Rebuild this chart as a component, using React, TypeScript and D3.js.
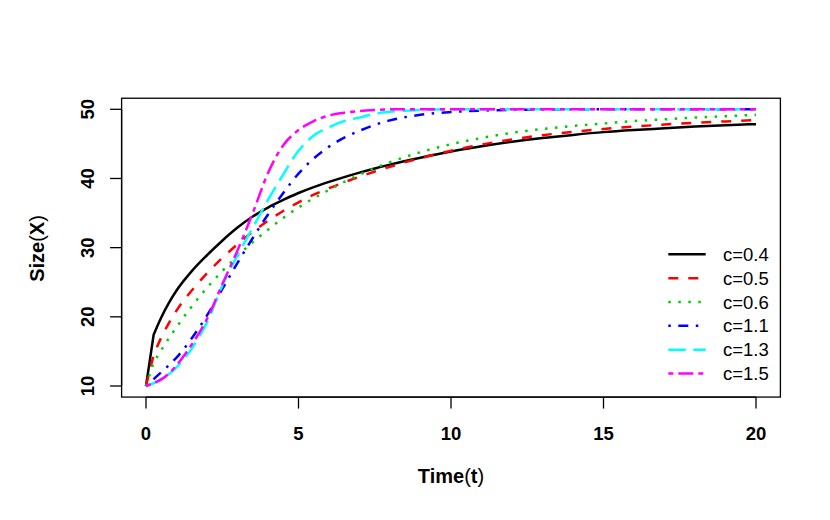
import React from "react";
import * as d3 from "d3";

const times = [0, 0.25, 0.5, 0.75, 1, 1.5, 2, 2.5, 3, 3.5, 4, 4.5, 5, 5.5, 6, 6.5, 7, 7.5, 8, 9, 10, 11, 12, 13, 14, 15, 16, 17, 18, 19, 20];

const c04 = [10, 17.4, 19.9, 22.0, 23.8, 26.6, 28.9, 31.0, 32.9, 34.5, 35.8, 36.9, 37.9, 38.75, 39.5, 40.2, 40.85, 41.45, 42.0, 43.0, 43.9, 44.65, 45.3, 45.85, 46.3, 46.7, 47.0, 47.25, 47.5, 47.7, 47.85];
const c05 = [10, 14.5, 17.0, 19.1, 20.9, 23.8, 26.3, 28.5, 30.5, 32.3, 33.9, 35.3, 36.55, 37.65, 38.6, 39.45, 40.25, 41.0, 41.7, 42.95, 44.0, 44.9, 45.65, 46.25, 46.75, 47.15, 47.5, 47.8, 48.05, 48.25, 48.45];
const c06 = [10, 13.4, 15.2, 16.9, 18.5, 21.5, 24.2, 26.6, 28.8, 30.8, 32.6, 34.3, 35.8, 37.15, 38.35, 39.5, 40.55, 41.5, 42.35, 43.8, 44.95, 45.85, 46.6, 47.15, 47.6, 47.95, 48.3, 48.55, 48.8, 49.0, 49.2];
const c11 = [10, 11.0, 12.0, 13.0, 14.1, 16.9, 20.2, 24.0, 27.8, 31.4, 34.8, 37.9, 40.7, 42.9, 44.6, 45.9, 46.9, 47.75, 48.4, 49.2, 49.6, 49.82, 49.92, 49.97, 50, 50, 50, 50, 50, 50, 50];
const c13 = [10, 10.4, 11.0, 11.7, 12.7, 15.4, 19.2, 24.5, 28.9, 32.9, 36.9, 40.6, 44.0, 46.2, 47.4, 48.3, 48.8, 49.35, 49.65, 49.9, 50, 50, 50, 50, 50, 50, 50, 50, 50, 50, 50];
const c15 = [10, 10.4, 10.95, 11.8, 13.0, 16.0, 19.7, 24.7, 29.6, 35.0, 40.8, 44.8, 47.0, 48.3, 49.1, 49.5, 49.75, 49.9, 50, 50, 50, 50, 50, 50, 50, 50, 50, 50, 50, 50, 50];

const seriesLabels = ["c=0.4", "c=0.5", "c=0.6", "c=1.1", "c=1.3", "c=1.5"];
const seriesValues = [c04, c05, c06, c11, c13, c15];
const seriesColors = ["#000000", "#FF0000", "#00CD00", "#0000FF", "#00FFFF", "#FF00FF"];
const seriesDash = ["none", "10,10", "2.5,7.5", "2.5,7.5,10,7.5", "17.5,7.5", "5,5,15,5"];

const xTicks = [0, 5, 10, 15, 20];
const yTicks = [10, 20, 30, 40, 50];

const FONT = "'Liberation Sans', Arial, Helvetica, sans-serif";

export default function App() {
  const x = d3.scaleLinear().domain([0, 20]).range([146, 756]);
  const y = d3.scaleLinear().domain([10, 50]).range([386, 109.3]);
  const left = x(-0.8), right = x(20.8), top = y(51.6), bottom = y(8.4);

  const smooth = d3
    .line<[number, number]>()
    .x((d) => x(d[0]))
    .y((d) => y(d[1]))
    .curve(d3.curveMonotoneX);

  // first step drawn as a straight segment (as in the reference), the rest smoothed
  const pathFor = (vals: number[]) => {
    const pts: [number, number][] = vals.map((v, i) => [times[i], v]);
    const rest = smooth(pts.slice(1)) || "";
    return `M${x(pts[0][0])},${y(pts[0][1])}L${rest.slice(1)}`;
  };

  const legendX0 = 668.3, legendX1 = 705.7, legendTextX = 723;
  const legendY0 = 254.3, legendStep = 23.85;

  return (
    <svg
      width={830}
      height={520}
      style={{ position: "absolute", left: 0, top: 0, background: "#fff" }}
      fontFamily={FONT}
    >
      <rect x={0} y={0} width={830} height={520} fill="#fff" />
      <defs>
        <clipPath id="plotclip">
          <rect x={left} y={top} width={right - left} height={bottom - top} />
        </clipPath>
      </defs>
      <g clipPath="url(#plotclip)">
        {seriesValues.map((vals, i) => (
          <path
            key={i}
            d={pathFor(vals)}
            fill="none"
            stroke={seriesColors[i]}
            strokeWidth={2.5}
            strokeDasharray={seriesDash[i]}
            strokeLinecap="butt"
            strokeLinejoin="round"
          />
        ))}
      </g>
      <rect x={left} y={top} width={right - left} height={bottom - top} fill="none" stroke="#000" strokeWidth={1.3} />
      {/* x axis */}
      <line x1={x(0)} x2={x(20)} y1={bottom} y2={bottom} stroke="#000" strokeWidth={1.3} />
      {xTicks.map((t) => (
        <g key={t}>
          <line x1={x(t)} x2={x(t)} y1={bottom} y2={bottom + 11.5} stroke="#000" strokeWidth={1.3} />
          <text x={x(t)} y={439.5} textAnchor="middle" fontSize={18.5} fontWeight="bold">
            {t}
          </text>
        </g>
      ))}
      {/* y axis */}
      <line x1={left} x2={left} y1={y(10)} y2={y(50)} stroke="#000" strokeWidth={1.3} />
      {yTicks.map((t) => (
        <g key={t}>
          <line x1={left} x2={left - 11.5} y1={y(t)} y2={y(t)} stroke="#000" strokeWidth={1.3} />
          <text
            transform={`translate(94,${y(t)}) rotate(-90)`}
            textAnchor="middle"
            fontSize={18.5}
            fontWeight="bold"
          >
            {t}
          </text>
        </g>
      ))}
      {/* axis titles */}
      <text x={451} y={483} textAnchor="middle" fontSize={20}>
        <tspan fontWeight="bold">Time</tspan>
        <tspan>(</tspan>
        <tspan fontWeight="bold">t</tspan>
        <tspan>)</tspan>
      </text>
      <text transform={`translate(44,248.5) rotate(-90)`} textAnchor="middle" fontSize={20}>
        <tspan fontWeight="bold">Size</tspan>
        <tspan>(</tspan>
        <tspan fontWeight="bold">X</tspan>
        <tspan>)</tspan>
      </text>
      {/* legend */}
      {seriesLabels.map((lab, i) => {
        const ly = legendY0 + i * legendStep;
        return (
          <g key={lab}>
            <line
              x1={legendX0}
              x2={legendX1}
              y1={ly}
              y2={ly}
              stroke={seriesColors[i]}
              strokeWidth={2.5}
              strokeDasharray={seriesDash[i]}
              strokeLinecap="butt"
            />
            <text x={legendTextX} y={ly + 6.5} fontSize={18.5}>
              {lab}
            </text>
          </g>
        );
      })}
    </svg>
  );
}
